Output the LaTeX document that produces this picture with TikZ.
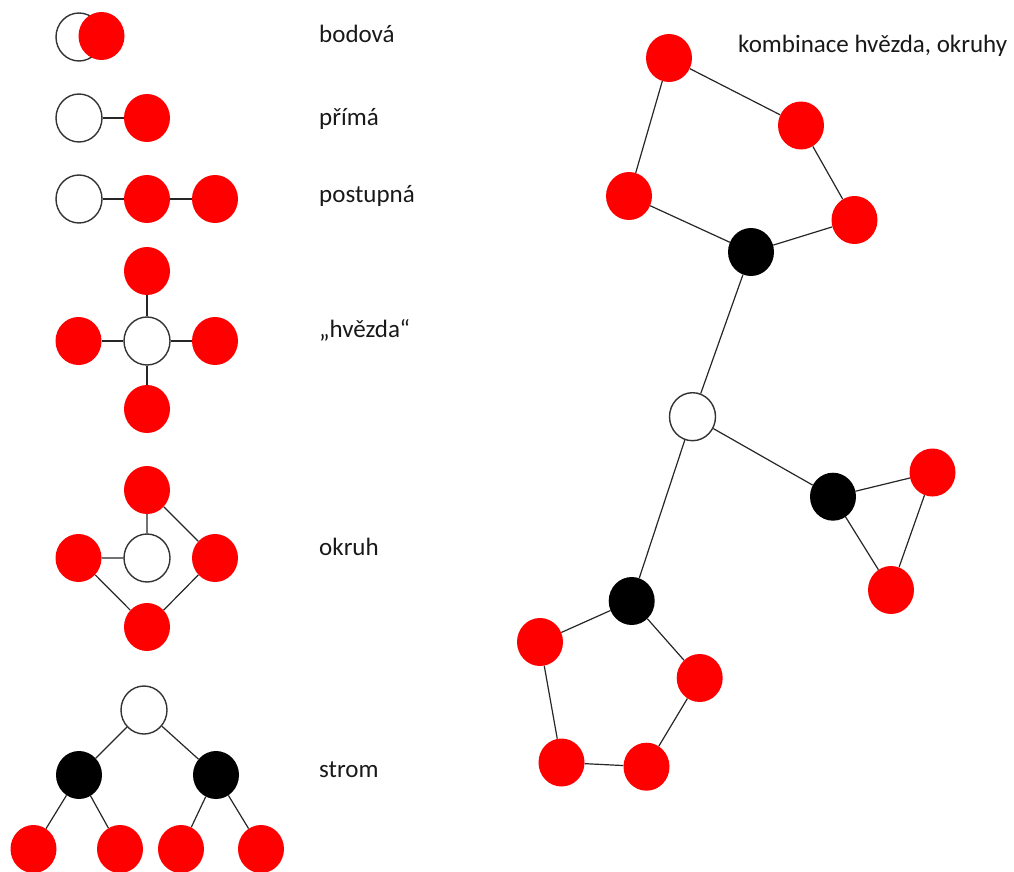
\documentclass[tikz,border=0pt]{standalone}
\usepackage{fontspec}
\setmainfont{Carlito}
\usetikzlibrary{shapes.geometric,backgrounds}
\definecolor{nodered}{RGB}{255,0,0}
\tikzset{
  nd/.style={ellipse, minimum width=46pt, minimum height=48pt, inner sep=0pt},
  wn/.style={nd, draw=black!80, line width=1.4pt, fill=white},
  rn/.style={nd, fill=nodered},
  bn/.style={nd, fill=black},
  ed/.style={draw=black!85, line width=1.2pt},
  lbl/.style={anchor=base west, inner sep=0pt, font=\fontsize{25}{29}\selectfont, text=black!90}
}
\begin{document}
\begin{tikzpicture}[x=1pt,y=-1pt]
\useasboundingbox (0,0) rectangle (1014,872);
% bodova
\node[wn] (a1) at (79,37) {};
\node[rn] (a2) at (101.5,36) {};
% prima
\node[wn] (b1) at (79,118) {};
\node[rn] (b2) at (147,118) {};
% postupna
\node[wn] (c1) at (79,199) {};
\node[rn] (c2) at (147,199) {};
\node[rn] (c3) at (215,199) {};
% hvezda
\node[wn] (d0) at (147,341) {};
\node[rn] (dt) at (147,271) {};
\node[rn] (dl) at (78.5,341) {};
\node[rn] (dr) at (215,341) {};
\node[rn] (db) at (147,409) {};
% okruh
\node[wn] (e0) at (147,558) {};
\node[rn] (et) at (147,490) {};
\node[rn] (el) at (78.5,558) {};
\node[rn] (er) at (215,558) {};
\node[rn] (eb) at (147,627) {};
% strom
\node[wn] (f0) at (144,710) {};
\node[bn] (fl) at (79,775) {};
\node[bn] (fr) at (216,775) {};
\node[rn] (f1) at (33.5,849) {};
\node[rn] (f2) at (120,849) {};
\node[rn] (f3) at (181,849) {};
\node[rn] (f4) at (261,849) {};
% combination
\node[rn] (r1) at (669,58) {};
\node[rn] (r2) at (801,125.5) {};
\node[rn] (r3) at (629,196) {};
\node[rn] (r4) at (854.5,220) {};
\node[bn] (k1) at (751,252) {};
\node[wn] (w) at (692.5,416.7) {};
\node[bn] (k2) at (833,496.7) {};
\node[rn] (r5) at (932.5,472.5) {};
\node[rn] (r6) at (891,590) {};
\node[bn] (k3) at (631.7,601) {};
\node[rn] (r7) at (540,642) {};
\node[rn] (r8) at (699.7,678) {};
\node[rn] (r9) at (561.5,762.5) {};
\node[rn] (r10) at (646.5,766.7) {};
% labels
\node[lbl] (t1) at (319,43) {bodová};
\node[lbl] (t2) at (319,125) {přímá};
\node[lbl] (t3) at (319,202) {postupná};
\node[lbl] (t4) at (319,337) {„hvězda“};
\node[lbl] (t5) at (319,555) {okruh};
\node[lbl] (t6) at (319,777) {strom};
\node[lbl] (t7) at (738,53) {kombinace hvězda, okruhy};
% edges
\begin{scope}[on background layer]
\draw[ed] (b1) -- (b2);
\draw[ed] (c1) -- (c2) (c2) -- (c3);
\draw[ed] (d0) -- (dt) (d0) -- (dl) (d0) -- (dr) (d0) -- (db);
\draw[ed] (e0) -- (et) (e0) -- (el) (et) -- (er) (el) -- (eb) (er) -- (eb);
\draw[ed] (f0) -- (fl) (f0) -- (fr) (fl) -- (f1) (fl) -- (f2) (fr) -- (f3) (fr) -- (f4);
\draw[ed] (r1) -- (r2) (r2) -- (r4) (r4) -- (k1) (k1) -- (r3) (r3) -- (r1) (k1) -- (w);
\draw[ed] (w) -- (k2) (k2) -- (r5) (r5) -- (r6) (r6) -- (k2);
\draw[ed] (w) -- (k3) (k3) -- (r7) (k3) -- (r8) (r7) -- (r9) (r9) -- (r10) (r10) -- (r8);
\end{scope}
\end{tikzpicture}
\end{document}
